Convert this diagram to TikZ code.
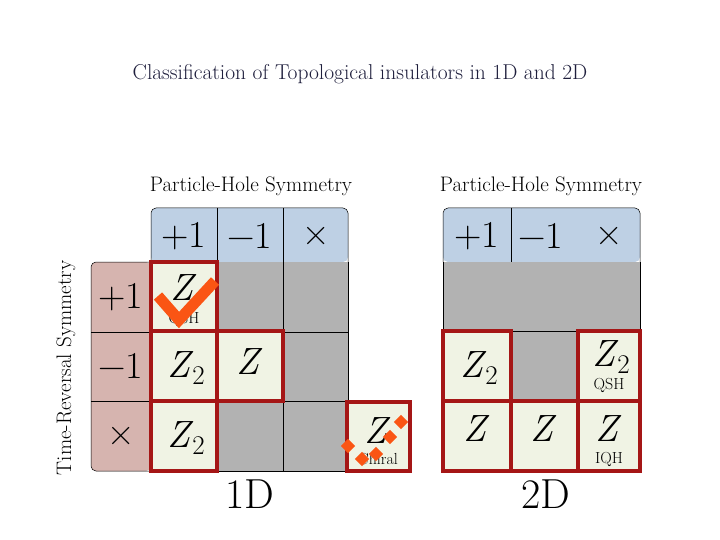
\documentclass[tikz,border=0pt]{standalone}
\usepackage{fontspec}
\newcommand{\Zt}{\textit{Z}\kern-1pt\raisebox{-0.2em}{\fontsize{27}{27}\selectfont 2}}
\begin{document}
\begin{tikzpicture}[x=1pt,y=-1pt,
  ccell/.style={fill=cream},
  rbox/.style={draw=boxred,line width=3.5pt},
  big/.style={font=\fontsize{38}{38}\selectfont},
  small/.style={font=\fontsize{16}{16}\selectfont},
  ttl/.style={font=\fontsize{21}{21}\selectfont},
  mark2/.style={fill=chkorange,draw=none,minimum size=10pt,inner sep=0pt,rotate=45}]
\definecolor{hdrblue}{RGB}{190,208,228}
\definecolor{sidepink}{RGB}{214,180,175}
\definecolor{cellgray}{RGB}{178,178,178}
\definecolor{cream}{RGB}{240,243,228}
\definecolor{boxred}{RGB}{165,22,22}
\definecolor{chkorange}{RGB}{250,85,20}
\definecolor{titleblue}{RGB}{30,30,60}
\useasboundingbox[fill=white] (0,0) rectangle (720,540);
\node[font=\fontsize{21.5}{21.5}\selectfont,text=titleblue] (title) at (360,74) {Classification of Topological insulators in 1D and 2D};
% ---- 1D ----
\fill[hdrblue,rounded corners=5pt] (151,262) |- (348,208) -- (348,262) -- cycle;
\draw[line width=0.5pt,rounded corners=5pt] (151,262) |- (348,208) -- (348,262);
\draw[line width=0.5pt] (217,208)--(217,262) (283,208)--(283,262) (151,262)--(348,262);
\fill[sidepink,rounded corners=5pt] (151,262) -| (91,471) -- (151,471) -- cycle;
\draw[line width=0.5pt,rounded corners=5pt] (151,262) -| (91,471) -- (151,471);
\draw[line width=0.5pt] (91,332)--(151,332) (91,401)--(151,401);
\fill[cellgray] (151,262) rectangle (348,471);
\draw[line width=0.5pt] (217,262)--(217,471) (283,262)--(283,471) (151,332)--(348,332) (151,401)--(348,401) (348,262)--(348,471) (151,471)--(348,471);
\foreach \a/\b/\c/\d in {151/262/217/331,151/331/217/401,217/331/283/401,151/401/217/471,347/402/410/471}
  \filldraw[ccell,rbox] (\a,\b) rectangle (\c,\d);
\node[ttl] (ph1) at (251,186) {Particle-Hole Symmetry};
\node[ttl,rotate=90] (tr) at (66,368) {Time-Reversal Symmetry};
\node[big] (h1) at (184,236) {+1};
\node[big] (h2) at (250,236) {−1};
\node[big] (h3) at (316,236) {×};
\node[big] (s1) at (121,297) {+1};
\node[big] (s2) at (121,366) {−1};
\node[big] (s3) at (121,436) {×};
\node[big] (c11) at (184,288) {\textit{Z}};
\node[small] (c11l) at (184,319) {QSH};
\node[big] (c21) at (186,368) {\Zt};
\node[big] (c22) at (250,362) {\textit{Z}};
\node[big] (c31) at (186,438) {\Zt};
\node[big] (cc) at (378,431) {\textit{Z}};
\node[small] (ccl) at (378,459) {Chiral};
\draw[chkorange,line width=11pt,line join=miter] (158,296) -- (179,320) -- (215,281);
\foreach \p/\q in {348/446,362/459,376/454,390/437,401/422}
  \node[mark2] at (\p,\q) {};
\node[font=\fontsize{42}{42}\selectfont] (d1) at (250,494) {1D};
% ---- 2D ----
\fill[hdrblue,rounded corners=5pt] (443,262) |- (640,208) -- (640,262) -- cycle;
\draw[line width=0.5pt,rounded corners=5pt] (443,262) |- (640,208) -- (640,262);
\draw[line width=0.5pt] (511,208)--(511,331) (443,262)--(640,262);
\fill[cellgray] (443,262) rectangle (640,401);
\draw[line width=0.5pt] (443,262)--(443,331) (640,262)--(640,331) (443,331)--(640,331);
\foreach \a/\b/\c/\d in {443/331/511/401,578/331/640/401,443/401/511/471,511/401/578/471,578/401/640/471}
  \filldraw[ccell,rbox] (\a,\b) rectangle (\c,\d);
\node[ttl] (ph2) at (541,186) {Particle-Hole Symmetry};
\node[big] (k1) at (477,236) {+1};
\node[big] (k2) at (541,236) {−1};
\node[big] (k3) at (609,236) {×};
\node[big] (e21) at (479,368) {\Zt};
\node[big] (e23) at (611,357) {\Zt};
\node[small] (e23l) at (609,385) {QSH};
\node[big] (e31) at (477,429) {\textit{Z}};
\node[big] (e32) at (544,429) {\textit{Z}};
\node[big] (e33) at (609,429) {\textit{Z}};
\node[small] (e33l) at (609,459) {IQH};
\node[font=\fontsize{42}{42}\selectfont] (d2) at (546,494) {2D};
\end{tikzpicture}
\end{document}
